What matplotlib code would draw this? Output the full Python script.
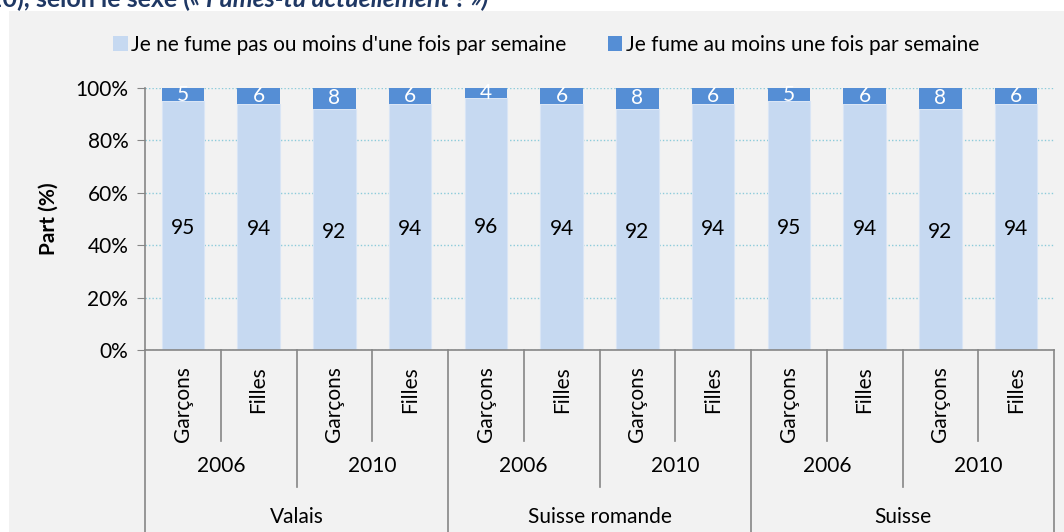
import matplotlib
matplotlib.use("Agg")
import matplotlib.pyplot as plt
from matplotlib.patches import Rectangle, Patch
from matplotlib.transforms import blended_transform_factory
import numpy as np

plt.rcParams['font.family'] = ['Lato', 'DejaVu Sans']

regions = ["Valais", "Suisse romande", "Suisse"]
years = ["2006", "2010"]
sexes = ["Garçons", "Filles"]
non_smokers = [95, 94, 92, 94, 96, 94, 92, 94, 95, 94, 92, 94]
smokers = [5, 6, 8, 6, 4, 6, 8, 6, 5, 6, 8, 6]
legend_labels = ["Je ne fume pas ou moins d'une fois par semaine",
                 "Je fume au moins une fois par semaine"]
y_ticks = [0, 20, 40, 60, 80, 100]
title_plain = "2010), selon le sexe ("
title_italic = "« Fumes-tu actuellement ? »)"

c_light = "#C6D9F1"
c_dark = "#558ED5"
axis_col = "#868686"
fs = 15

W, H = 1064, 532
fig = plt.figure(figsize=(W / 100, H / 100), dpi=100)
fig.patch.set_facecolor("white")
fig.patches.append(Rectangle((9 / W, 0), 1 - 9 / W, (H - 11) / H, transform=fig.transFigure,
                             facecolor="#F2F2F2", edgecolor="none", zorder=-10))

ax = fig.add_axes([145 / W, (H - 350) / H, (1054 - 145) / W, (350 - 88) / H])
ax.set_facecolor("none")

n = len(non_smokers)
x = np.arange(n)
bw = 0.56
ax.bar(x, non_smokers, bw, color=c_light, edgecolor="#D9E5F5", linewidth=0.8, zorder=2)
ax.bar(x, smokers, bw, bottom=non_smokers, color=c_dark, edgecolor="none", zorder=2)

for i in range(n):
    ax.text(x[i], non_smokers[i] / 2 - 1, str(non_smokers[i]), ha="center", va="center",
            fontsize=fs, color="black", zorder=3)
    ax.text(x[i], non_smokers[i] + smokers[i] / 2, str(smokers[i]), ha="center", va="center",
            fontsize=fs, color="white", zorder=3)

ax.set_xlim(-0.5, n - 0.5)
ax.set_ylim(0, 100)
ax.set_yticks(y_ticks)
ax.set_yticklabels([f"{v}%" for v in y_ticks], fontsize=fs)
ax.yaxis.grid(True, color="#8CCBDA", linestyle=(0, (1, 1.5)), linewidth=1.0, zorder=1)
ax.set_axisbelow(True)
ax.tick_params(axis="y", length=6, color=axis_col, pad=6)
ax.set_xticks([])
for s in ["top", "right"]:
    ax.spines[s].set_visible(False)
for s in ["left", "bottom"]:
    ax.spines[s].set_color(axis_col)
    ax.spines[s].set_linewidth(1.2)
ax.set_ylabel("Part (%)", fontsize=fs, fontweight="bold", labelpad=12)

trans = blended_transform_factory(ax.transData, ax.transAxes)
hpx = 350 - 88
d_sex = -(441 - 350) / hpx
d_year = -(487 - 350) / hpx
d_reg = -(532 - 350) / hpx - 0.02

for i in range(n + 1):
    xs = i - 0.5
    if i % 4 == 0:
        d = d_reg
    elif i % 2 == 0:
        d = d_year
    else:
        d = d_sex
    ax.plot([xs, xs], [0, d], transform=trans, color=axis_col, linewidth=1.2, clip_on=False)

for i in range(n):
    ax.text(x[i], -(366 - 350) / hpx, sexes[i % 2], transform=trans, rotation=90,
            ha="center", va="top", fontsize=fs)
for k in range(n // 2):
    ax.text(2 * k + 0.5, -(466 - 350) / hpx, years[k % 2], transform=trans,
            ha="center", va="center", fontsize=fs)
for r in range(len(regions)):
    ax.text(4 * r + 1.5, -(517 - 350) / hpx, regions[r], transform=trans,
            ha="center", va="center", fontsize=fs)

handles = [Patch(facecolor=c_light, edgecolor="none"), Patch(facecolor=c_dark, edgecolor="none")]
fig.legend(handles, legend_labels, loc="center", bbox_to_anchor=(546 / W, 1 - 45 / H), ncol=2,
           frameon=False, fontsize=fs, handlelength=0.7, handleheight=0.7, handletextpad=0.15,
           columnspacing=2.0)

tfs = 18
t2 = fig.text(488 / W, 1 - 7 / H, title_italic, ha="right", va="baseline", fontsize=tfs,
              fontweight="bold", fontstyle="italic", color="#1F3864")
fig.canvas.draw()
bb = t2.get_window_extent()
fig.text(bb.x0 / W, 1 - 7 / H, title_plain, ha="right", va="baseline", fontsize=tfs,
         fontweight="bold", color="#1F3864")

fig.savefig("out.png", dpi=100, facecolor="white")
